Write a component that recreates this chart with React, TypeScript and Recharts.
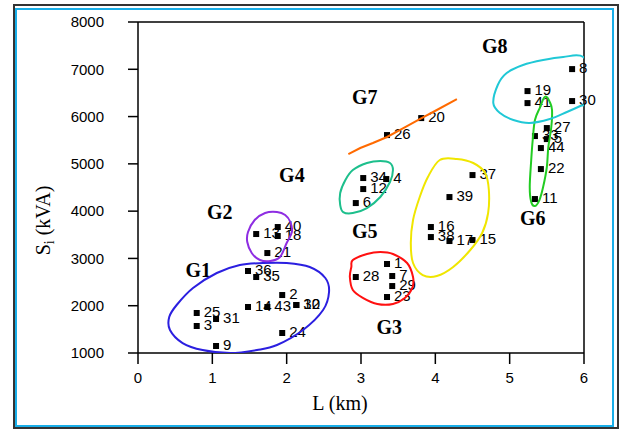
import { ScatterChart, Scatter, XAxis, YAxis, ReferenceLine } from 'recharts';

// load points: number, length L (km), apparent power S (kVA)
const IDS = [1, 2, 3, 4, 5, 6, 7, 8, 9, 10, 11, 12, 13, 14, 15, 16, 17, 18, 19, 20, 21, 22, 23, 24, 25, 26, 27, 28, 29, 30, 31, 32, 33, 34, 35, 36, 37, 38, 39, 40, 41, 43, 44];
const L_KM = [3.35, 1.94, 0.79, 3.34, 5.5, 2.93, 3.42, 5.84, 1.05, 2.13, 5.34, 3.03, 1.59, 1.48, 4.5, 3.94, 4.19, 1.88, 5.24, 3.81, 1.74, 5.42, 3.35, 1.94, 0.79, 3.35, 5.5, 2.93, 3.42, 5.84, 1.05, 2.13, 5.34, 3.03, 1.59, 1.48, 4.5, 3.94, 4.19, 1.88, 5.24, 1.74, 5.42];
const S_KVA = [2882, 2226, 1571, 4679, 5524, 4171, 2628, 7004, 1148, 2015, 4256, 4467, 3516, 1973, 3389, 3664, 3368, 3474, 6539, 5968, 3114, 4890, 2184, 1423, 1846, 5609, 5757, 2607, 2416, 6328, 1719, 2015, 5588, 4700, 2607, 2734, 4763, 3452, 4298, 3664, 6285, 1973, 5334];

const X_TICKS = [0, 1, 2, 3, 4, 5, 6];
const Y_TICKS = [1000, 2000, 3000, 4000, 5000, 6000, 7000, 8000];

// group names and where they are written
const GROUP_NAMES = ['G1', 'G2', 'G3', 'G4', 'G5', 'G6', 'G7', 'G8'];
const GROUP_L = [0.81, 1.1, 3.38, 2.07, 3.05, 5.31, 3.05, 4.8];
const GROUP_S = [2755, 3982, 1550, 4764, 3580, 3855, 6413, 7490];

// hand drawn outlines round each group, [L, S]
const G1_OUTLINE = [[0.42, 1761], [0.43, 1486], [0.6, 1211], [0.87, 1063], [1.24, 1000], [1.6, 1063], [1.87, 1169], [2.22, 1486], [2.49, 1909], [2.57, 2290], [2.52, 2586], [2.31, 2819], [2.0, 2903], [1.68, 2903], [1.37, 2861], [1.06, 2692], [0.74, 2374], [0.52, 2015]];
const G2_OUTLINE = [[1.87, 3982], [1.98, 3918], [2.05, 3770], [2.07, 3559], [2.0, 3326], [1.91, 3030], [1.78, 2945], [1.64, 2966], [1.53, 3115], [1.47, 3348], [1.48, 3559], [1.57, 3813], [1.71, 3961]];
const G3_OUTLINE = [[2.89, 2967], [3.08, 3094], [3.26, 3136], [3.43, 3094], [3.62, 2903], [3.7, 2607], [3.69, 2375], [3.59, 2163], [3.43, 2036], [3.22, 2036], [3.03, 2163], [2.89, 2332], [2.85, 2607], [2.87, 2819]];
const G4_OUTLINE = [[2.72, 4384], [2.79, 4658], [2.89, 4870], [3.08, 5018], [3.26, 5060], [3.39, 5018], [3.43, 4870], [3.39, 4616], [3.26, 4299], [3.08, 4066], [2.89, 3960], [2.76, 3981], [2.72, 4130]];
const G5_OUTLINE = [[4.06, 5082], [4.29, 5103], [4.51, 5018], [4.67, 4806], [4.72, 4447], [4.71, 3960], [4.63, 3538], [4.47, 3178], [4.24, 2819], [4.02, 2628], [3.83, 2649], [3.7, 2903], [3.67, 3326], [3.7, 3813], [3.79, 4299], [3.9, 4722]];
const G6_OUTLINE = [[5.5, 6414], [5.54, 6308], [5.57, 6139], [5.56, 5779], [5.52, 5356], [5.5, 4933], [5.45, 4510], [5.4, 4235], [5.34, 4108], [5.29, 4193], [5.27, 4510], [5.29, 5081], [5.31, 5504], [5.34, 5927], [5.41, 6202], [5.46, 6393]];
const G7_LINE = [[2.83, 5208], [2.99, 5335], [3.16, 5441], [3.35, 5568], [3.57, 5758], [3.79, 5948], [4.02, 6139], [4.29, 6371]];
const G8_OUTLINE = [[5.99, 7260], [5.72, 7260], [5.45, 7196], [5.18, 7091], [4.96, 6921], [4.84, 6668], [4.78, 6286], [4.87, 6075], [5.05, 5927], [5.27, 5864], [5.54, 5948], [5.77, 6096], [5.95, 6223], [6.05, 6300], [6.15, 6774]];

const points = IDS.map((id, i) => ({ id, L: L_KM[i], S: S_KVA[i] }));
const groups = GROUP_NAMES.map((name, i) => ({ name, L: GROUP_L[i], S: GROUP_S[i] }));
const toRows = (outline: number[][]) => outline.map(([L, S]) => ({ L, S }));

const SANS = 'Liberation Sans, Arial, sans-serif';
const SERIF = 'Liberation Serif, Times New Roman, serif';

// closed catmull-rom through the outline points
function closedPath(pts: { x: number; y: number }[]) {
  const n = pts.length;
  if (!n) return '';
  let d = `M${pts[0].x},${pts[0].y}`;
  for (let i = 0; i < n; i++) {
    const p0 = pts[(i - 1 + n) % n];
    const p1 = pts[i];
    const p2 = pts[(i + 1) % n];
    const p3 = pts[(i + 2) % n];
    const c1x = p1.x + (p2.x - p0.x) / 6;
    const c1y = p1.y + (p2.y - p0.y) / 6;
    const c2x = p2.x - (p3.x - p1.x) / 6;
    const c2y = p2.y - (p3.y - p1.y) / 6;
    d += ` C${c1x},${c1y} ${c2x},${c2y} ${p2.x},${p2.y}`;
  }
  return d + ' Z';
}

const blob = (color: string) => (props: any) => (
  <path d={closedPath(props.points || [])} fill="none" stroke={color} strokeWidth={2} />
);

const NoMark = () => <g />;

function PointMark(props: any) {
  const { cx, cy, payload } = props;
  return (
    <g>
      <rect x={cx - 3} y={cy - 3} width={6} height={6} fill="#000" />
      <text x={cx + 7} y={cy + 4} fontSize={15} fontFamily={SANS} fill="#000">
        {payload.id}
      </text>
    </g>
  );
}

function GroupName(props: any) {
  const { cx, cy, payload } = props;
  return (
    <text x={cx} y={cy + 7} textAnchor="middle" fontSize={20} fontWeight="bold" fontFamily={SERIF} fill="#000">
      {payload.name}
    </text>
  );
}

function YTitle(props: any) {
  const vb = props.viewBox || { x: 0, y: 22, width: 138, height: 331 };
  const x = vb.x + 43;
  const y = vb.y + vb.height / 2 + 33;
  return (
    <text x={x} y={y} transform={`rotate(-90 ${x} ${y})`} textAnchor="middle" fontSize={20} fontFamily={SERIF} fill="#000" dy={7}>
      S<tspan fontSize={14} dy={4}>i</tspan>
      <tspan dy={-4}> (kVA)</tspan>
    </text>
  );
}

function XTitle(props: any) {
  const vb = props.viewBox || { x: 138, y: 353, width: 446, height: 77 };
  const x = vb.x + vb.width / 2 - 21;
  const y = vb.y + 57;
  return (
    <text x={x} y={y} textAnchor="middle" fontSize={20} fontFamily={SERIF} fill="#000">
      L (km)
    </text>
  );
}

export default function App() {
  const axisLine = { stroke: '#000', strokeWidth: 1.5 };
  const tick = { fill: '#000', fontSize: 15, fontFamily: SANS };
  return (
    <div style={{ position: 'absolute', left: 0, top: 0, width: 633, height: 430, background: '#fff' }}>
      <div style={{ position: 'absolute', left: 13, top: 4, width: 606, height: 425, border: '2px solid #333', boxSizing: 'border-box' }} />
      <div style={{ position: 'absolute', left: 15, top: 8, width: 599, height: 419, border: '2px solid #19aee8', boxSizing: 'border-box' }} />
      <div style={{ position: 'absolute', left: 0, top: 0 }}>
        <ScatterChart width={633} height={430} margin={{ top: 22, right: 49, bottom: 0, left: 0 }}>
          <XAxis
            type="number"
            dataKey="L"
            domain={[0, 6]}
            ticks={X_TICKS}
            height={77}
            tickSize={11}
            tickMargin={8}
            axisLine={axisLine}
            tickLine={axisLine}
            tick={tick}
            label={{ content: XTitle }}
          />
          <YAxis
            type="number"
            dataKey="S"
            domain={[1000, 8000]}
            ticks={Y_TICKS}
            width={138}
            tickSize={10}
            tickMargin={24}
            axisLine={axisLine}
            tickLine={axisLine}
            tick={tick}
            label={{ content: YTitle }}
          />
          <XAxis xAxisId="clip" type="number" dataKey="L" domain={[0, 6]} allowDataOverflow hide />
          <YAxis yAxisId="clip" type="number" dataKey="S" domain={[1000, 8000]} allowDataOverflow hide />

          <Scatter data={points} shape={PointMark} isAnimationActive={false} />
          <Scatter data={groups} shape={GroupName} isAnimationActive={false} />

          <Scatter xAxisId="clip" yAxisId="clip" data={toRows(G1_OUTLINE)} shape={NoMark} line={blob('#2b1fe0')} isAnimationActive={false} />
          <Scatter xAxisId="clip" yAxisId="clip" data={toRows(G2_OUTLINE)} shape={NoMark} line={blob('#8e2de2')} isAnimationActive={false} />
          <Scatter xAxisId="clip" yAxisId="clip" data={toRows(G3_OUTLINE)} shape={NoMark} line={blob('#ff1010')} isAnimationActive={false} />
          <Scatter xAxisId="clip" yAxisId="clip" data={toRows(G4_OUTLINE)} shape={NoMark} line={blob('#1dbf8c')} isAnimationActive={false} />
          <Scatter xAxisId="clip" yAxisId="clip" data={toRows(G5_OUTLINE)} shape={NoMark} line={blob('#f0e600')} isAnimationActive={false} />
          <Scatter xAxisId="clip" yAxisId="clip" data={toRows(G6_OUTLINE)} shape={NoMark} line={blob('#22cc22')} isAnimationActive={false} />
          <Scatter xAxisId="clip" yAxisId="clip" data={toRows(G7_LINE)} shape={NoMark} line={{ stroke: '#ff6a00', strokeWidth: 2 }} isAnimationActive={false} />
          <Scatter xAxisId="clip" yAxisId="clip" data={toRows(G8_OUTLINE)} shape={NoMark} line={blob('#20c8d6')} isAnimationActive={false} />

          <ReferenceLine y={8000} stroke="#000" strokeWidth={1.5} />
          <ReferenceLine x={6} stroke="#000" strokeWidth={1.5} />
        </ScatterChart>
      </div>
    </div>
  );
}
